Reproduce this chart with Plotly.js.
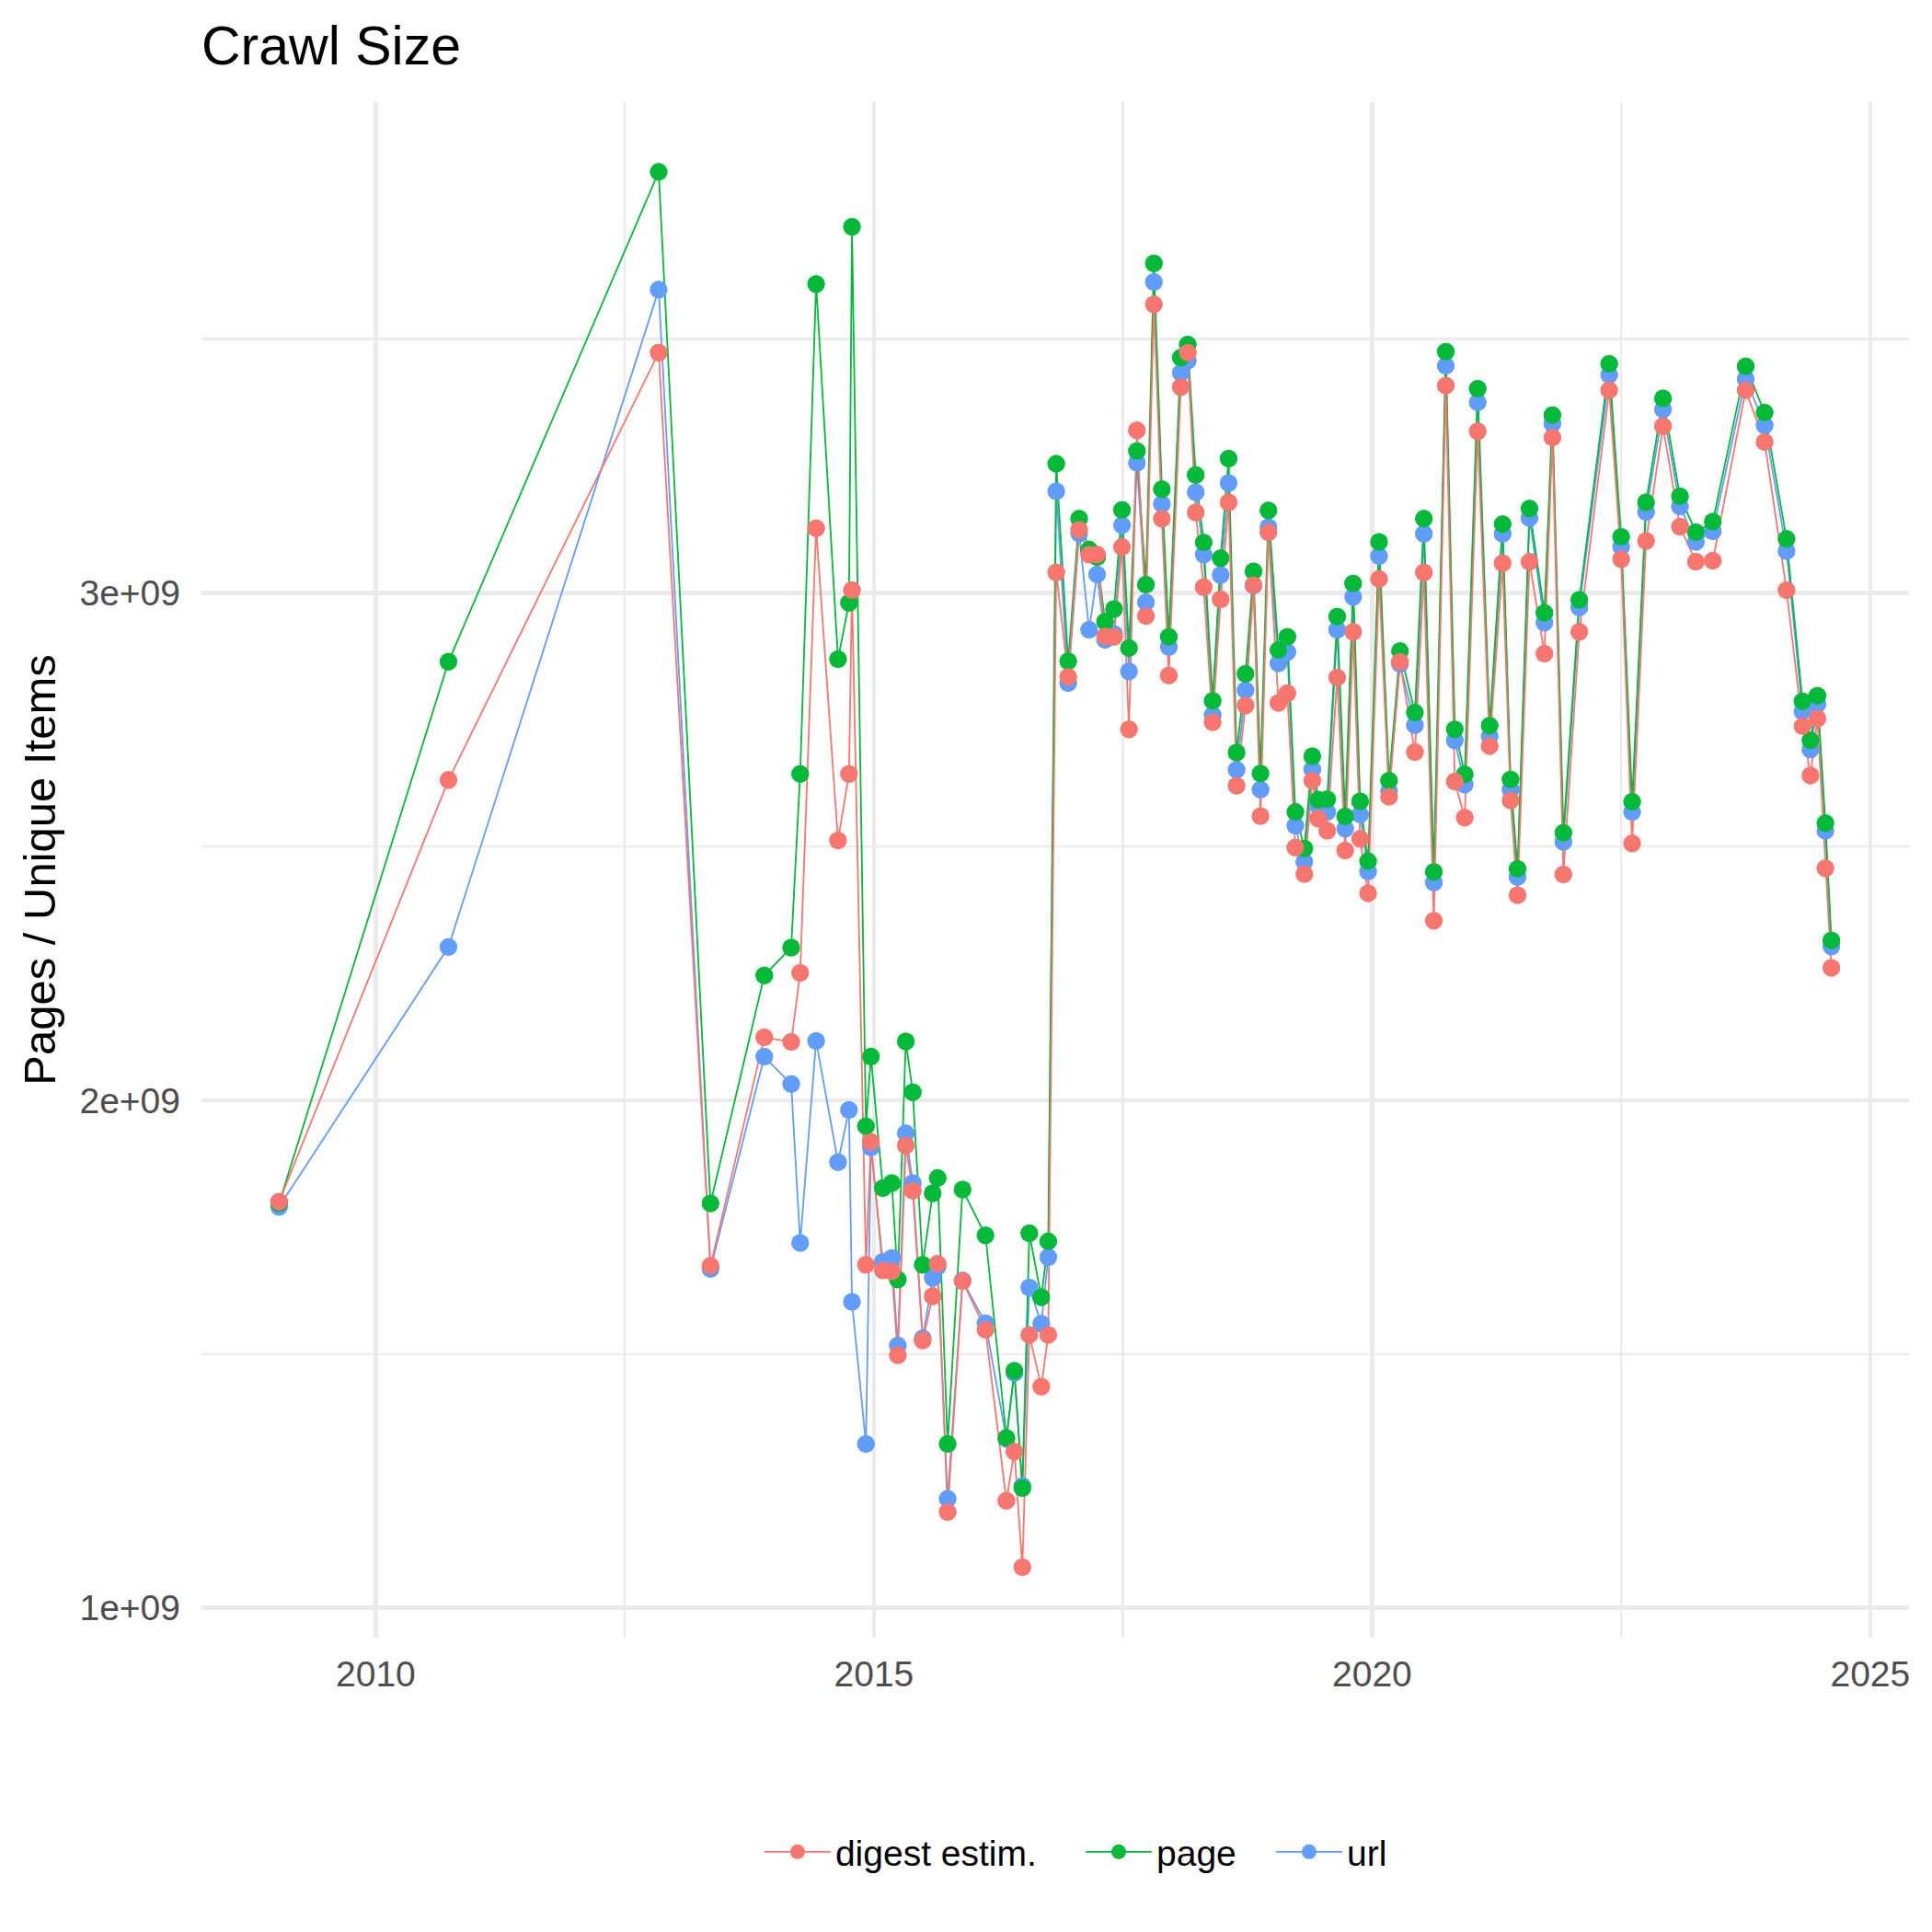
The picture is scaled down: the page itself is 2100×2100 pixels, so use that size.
<!DOCTYPE html>
<html>
<head>
<meta charset="utf-8">
<script src="https://cdn.plot.ly/plotly-3.0.1.min.js"></script>
<style>html,body{margin:0;padding:0;background:#fff;}#chart{width:2100px;height:2100px;}</style>
</head>
<body>
<div id="chart"></div>
<script>
// Crawl dates (decimal years)
const crawlYear = [
  2009.03, 2010.73, 2012.84, 2013.36, 2013.90, 2014.17, 2014.26, 2014.42, 2014.64, 2014.75,
  2014.78, 2014.92, 2014.97, 2015.09, 2015.18, 2015.24, 2015.32, 2015.39, 2015.49, 2015.59,
  2015.64, 2015.74, 2015.89, 2016.12, 2016.33, 2016.41, 2016.49, 2016.56, 2016.68, 2016.75,
  2016.83, 2016.95, 2017.06, 2017.16, 2017.24, 2017.32, 2017.41, 2017.49, 2017.56, 2017.64,
  2017.73, 2017.81, 2017.89, 2017.96, 2018.08, 2018.15, 2018.23, 2018.31, 2018.40, 2018.48,
  2018.56, 2018.64, 2018.73, 2018.81, 2018.88, 2018.96, 2019.06, 2019.15, 2019.23, 2019.32,
  2019.40, 2019.46, 2019.55, 2019.65, 2019.73, 2019.81, 2019.88, 2019.96, 2020.07, 2020.17,
  2020.28, 2020.43, 2020.52, 2020.62, 2020.74, 2020.83, 2020.93, 2021.06, 2021.18, 2021.31,
  2021.39, 2021.46, 2021.58, 2021.73, 2021.81, 2021.92, 2022.08, 2022.38, 2022.50, 2022.61,
  2022.75, 2022.92, 2023.09, 2023.25, 2023.42, 2023.75, 2023.94, 2024.16, 2024.32, 2024.40,
  2024.47, 2024.55, 2024.61
];

const digestEstim = [
  1.800e9, 2.631e9, 3.473e9, 1.674e9, 2.124e9, 2.115e9, 2.251e9, 3.127e9, 2.512e9, 2.643e9,
  3.005e9, 1.676e9, 1.918e9, 1.665e9, 1.663e9, 1.498e9, 1.911e9, 1.822e9, 1.527e9, 1.614e9,
  1.678e9, 1.189e9, 1.644e9, 1.548e9, 1.211e9, 1.308e9, 1.080e9, 1.538e9, 1.436e9, 1.538e9,
  3.040e9, 2.834e9, 3.124e9, 3.075e9, 3.075e9, 2.914e9, 2.913e9, 3.090e9, 2.731e9, 3.320e9,
  2.954e9, 3.568e9, 3.146e9, 2.837e9, 3.405e9, 3.473e9, 3.158e9, 3.011e9, 2.745e9, 2.987e9,
  3.178e9, 2.620e9, 2.778e9, 3.015e9, 2.560e9, 3.119e9, 2.783e9, 2.802e9, 2.498e9, 2.446e9,
  2.630e9, 2.555e9, 2.531e9, 2.833e9, 2.492e9, 2.923e9, 2.515e9, 2.408e9, 3.027e9, 2.598e9,
  2.864e9, 2.686e9, 3.040e9, 2.354e9, 3.408e9, 2.628e9, 2.557e9, 3.318e9, 2.698e9, 3.058e9,
  2.591e9, 2.404e9, 3.061e9, 2.880e9, 3.306e9, 2.445e9, 2.923e9, 3.399e9, 3.066e9, 2.506e9,
  3.102e9, 3.328e9, 3.130e9, 3.061e9, 3.063e9, 3.399e9, 3.297e9, 3.005e9, 2.737e9, 2.640e9,
  2.752e9, 2.457e9, 2.261e9
];

const page = [
  1.797e9, 2.864e9, 3.829e9, 1.797e9, 2.246e9, 2.301e9, 2.643e9, 3.608e9, 2.869e9, 2.980e9,
  3.721e9, 1.949e9, 2.086e9, 1.827e9, 1.837e9, 1.647e9, 2.116e9, 2.016e9, 1.676e9, 1.817e9,
  1.847e9, 1.323e9, 1.824e9, 1.734e9, 1.335e9, 1.467e9, 1.236e9, 1.738e9, 1.612e9, 1.722e9,
  3.254e9, 2.865e9, 3.146e9, 3.085e9, 3.070e9, 2.943e9, 2.968e9, 3.163e9, 2.891e9, 3.279e9,
  3.016e9, 3.649e9, 3.204e9, 2.913e9, 3.463e9, 3.489e9, 3.232e9, 3.099e9, 2.787e9, 3.068e9,
  3.264e9, 2.685e9, 2.840e9, 3.042e9, 2.644e9, 3.162e9, 2.887e9, 2.913e9, 2.568e9, 2.496e9,
  2.678e9, 2.592e9, 2.593e9, 2.953e9, 2.559e9, 3.018e9, 2.589e9, 2.471e9, 3.100e9, 2.630e9,
  2.885e9, 2.764e9, 3.146e9, 2.450e9, 3.475e9, 2.731e9, 2.642e9, 3.402e9, 2.738e9, 3.135e9,
  2.632e9, 2.456e9, 3.166e9, 2.960e9, 3.350e9, 2.527e9, 2.986e9, 3.451e9, 3.110e9, 2.588e9,
  3.178e9, 3.383e9, 3.190e9, 3.119e9, 3.140e9, 3.446e9, 3.355e9, 3.106e9, 2.786e9, 2.709e9,
  2.797e9, 2.546e9, 2.315e9
];

const url = [
  1.790e9, 2.302e9, 3.597e9, 1.668e9, 2.086e9, 2.032e9, 1.719e9, 2.117e9, 1.878e9, 1.981e9,
  1.603e9, 1.323e9, 1.907e9, 1.682e9, 1.689e9, 1.517e9, 1.935e9, 1.837e9, 1.531e9, 1.650e9,
  1.673e9, 1.215e9, 1.645e9, 1.561e9, 1.333e9, 1.463e9, 1.240e9, 1.631e9, 1.560e9, 1.691e9,
  3.200e9, 2.822e9, 3.117e9, 2.927e9, 3.036e9, 2.907e9, 2.919e9, 3.133e9, 2.845e9, 3.256e9,
  2.981e9, 3.612e9, 3.175e9, 2.893e9, 3.433e9, 3.457e9, 3.198e9, 3.075e9, 2.759e9, 3.035e9,
  3.216e9, 2.651e9, 2.808e9, 3.014e9, 2.612e9, 3.129e9, 2.861e9, 2.883e9, 2.541e9, 2.470e9,
  2.652e9, 2.580e9, 2.568e9, 2.927e9, 2.535e9, 2.992e9, 2.563e9, 2.451e9, 3.072e9, 2.609e9,
  2.860e9, 2.739e9, 3.116e9, 2.429e9, 3.447e9, 2.709e9, 2.622e9, 3.375e9, 2.717e9, 3.116e9,
  2.612e9, 2.440e9, 3.147e9, 2.941e9, 3.333e9, 2.509e9, 2.971e9, 3.429e9, 3.091e9, 2.568e9,
  3.159e9, 3.361e9, 3.170e9, 3.100e9, 3.121e9, 3.421e9, 3.330e9, 3.082e9, 2.766e9, 2.691e9,
  2.780e9, 2.531e9, 2.303e9
];

const seriesNames = ['digest estim.', 'page', 'url'];
const seriesColors = ['#F8766D', '#00BA38', '#619CFF'];
const seriesValues = [digestEstim, page, url];
const legendIds = ['legend', 'legend2', 'legend3'];

const xTickVals = [2010, 2015, 2020, 2025];
const xTickText = ['2010', '2015', '2020', '2025'];
const yTickVals = [1e9, 2e9, 3e9];
const yTickText = ['1e+09', '2e+09', '3e+09'];
const yMinorVals = [1.5e9, 2.5e9, 3.5e9];
const xMinorVals = [2012.5, 2017.5, 2022.5];

const FONT = '"Liberation Sans", Arial, Helvetica, sans-serif';
const MSIZE = 19;
const traces = [];
// draw order (bottom -> top): url, page, digest ; lines first, then markers on top
const order = [2, 1, 0];
order.forEach(i => {
  traces.push({
    x: crawlYear, y: seriesValues[i], name: seriesNames[i], type: 'scatter',
    mode: 'lines+markers', line: {color: seriesColors[i], width: 1.8},
    marker: {color: seriesColors[i], size: MSIZE}, showlegend: true,
    legend: legendIds[i], hoverinfo: 'skip'
  });
});
order.forEach(i => {
  traces.push({
    x: crawlYear, y: seriesValues[i], name: seriesNames[i], type: 'scatter',
    mode: 'markers', marker: {color: seriesColors[i], size: MSIZE},
    showlegend: false, hoverinfo: 'skip'
  });
});

function legendAt(x) {
  return {
    orientation: 'h', x: x, xanchor: 'left', y: -0.1396, yanchor: 'middle',
    font: {family: FONT, size: 39, color: '#000'},
    itemwidth: 72, bgcolor: 'rgba(0,0,0,0)', borderwidth: 0
  };
}

const layout = {
  width: 2100, height: 2100,
  paper_bgcolor: '#fff', plot_bgcolor: '#fff',
  margin: {l: 219, r: 25, t: 111, b: 320, pad: 0},
  font: {family: FONT, color: '#000'},
  title: {
    text: 'Crawl Size', font: {family: FONT, size: 59, color: '#000'},
    x: 0, xref: 'paper', xanchor: 'left', y: 1 - 49 / 2100, yref: 'container', yanchor: 'middle'
  },
  xaxis: {
    range: [2008.251, 2025.389], tickmode: 'array', tickvals: xTickVals, ticktext: xTickText,
    showgrid: true, gridcolor: '#EBEBEB', gridwidth: 4.5, zeroline: false, showline: false,
    ticks: '', ticklabelstandoff: 13,
    tickfont: {family: FONT, size: 39, color: '#4D4D4D'},
    minor: {tickmode: 'array', tickvals: xMinorVals, showgrid: true, gridcolor: '#EBEBEB', gridwidth: 2.3, ticks: ''}
  },
  yaxis: {
    range: [0.9415e9, 3.9665e9], tickmode: 'array', tickvals: yTickVals, ticktext: yTickText,
    showgrid: true, gridcolor: '#EBEBEB', gridwidth: 4.5, zeroline: false, showline: false,
    ticks: '', ticklabelstandoff: 22,
    tickfont: {family: FONT, size: 39, color: '#4D4D4D'},
    minor: {tickmode: 'array', tickvals: yMinorVals, showgrid: true, gridcolor: '#EBEBEB', gridwidth: 2.3, ticks: ''},
    title: {text: 'Pages / Unique Items', font: {family: FONT, size: 49, color: '#000'}, standoff: 10}
  },
  legend: legendAt(0.3270),
  legend2: legendAt(0.5151),
  legend3: legendAt(0.6266),
  showlegend: true
};

Plotly.newPlot('chart', traces, layout, {staticPlot: true, displayModeBar: false});
</script>
</body>
</html>
